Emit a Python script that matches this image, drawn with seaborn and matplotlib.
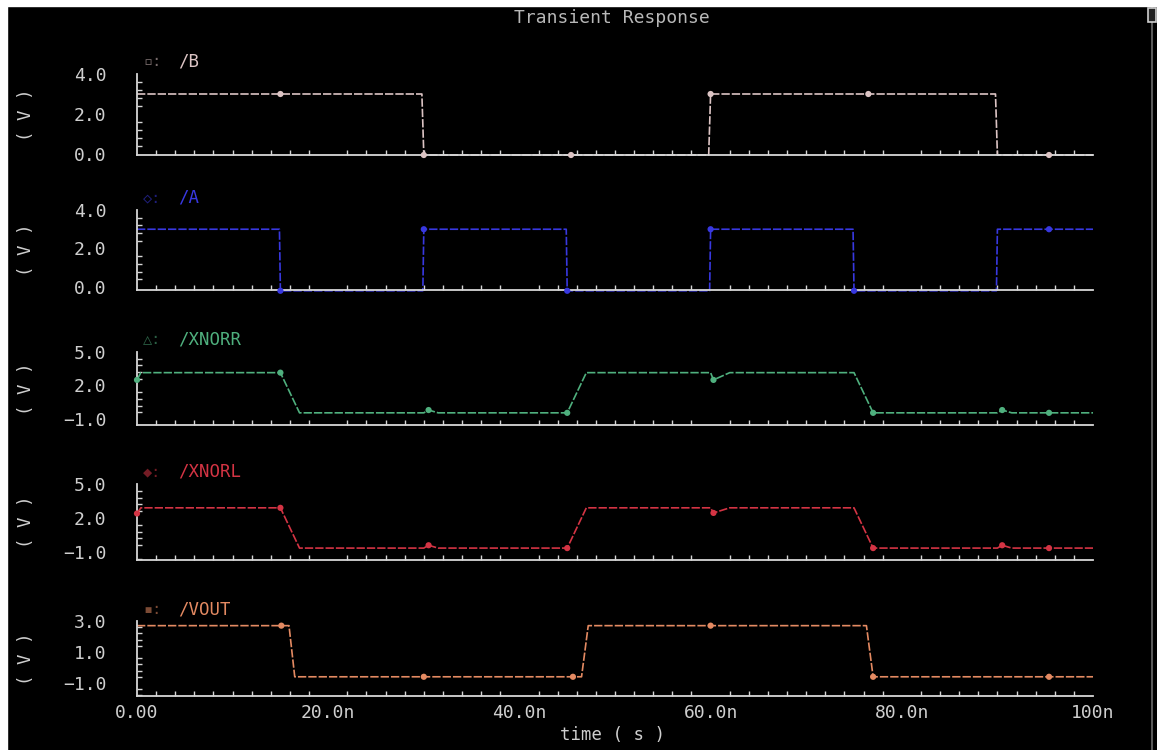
import matplotlib
matplotlib.use("Agg")
import matplotlib.pyplot as plt
import matplotlib.patches as mpatches
from matplotlib.lines import Line2D
from matplotlib.ticker import MultipleLocator, AutoMinorLocator
import pandas as pd
import seaborn as sns

# time in ns, voltage in V
t_b = [0, 15, 29.8, 30, 45.4, 59.8, 60, 76.5, 89.8, 90, 95.4, 100]
v_b = [3.0, 3.0, 3.0, -0.05, -0.05, -0.05, 3.0, 3.0, 3.0, -0.05, -0.05, -0.05]
mk_b = [1, 3, 4, 6, 7, 10]

t_a = [0, 14.9, 15, 29.9, 30, 44.9, 45, 59.9, 60, 74.9, 75, 89.9, 90, 95.4, 100]
v_a = [3.0, 3.0, -0.2, -0.2, 3.0, 3.0, -0.2, -0.2, 3.0, 3.0, -0.2, -0.2, 3.0, 3.0, 3.0]
mk_a = [2, 4, 6, 8, 10, 13]

t_xr = [0, 0.4, 15, 17, 30, 30.5, 31.5, 45, 47, 60, 60.3, 62, 75, 77, 90, 90.5, 91.5, 95.4, 100]
v_xr = [2.5, 3.15, 3.15, -0.45, -0.45, -0.2, -0.45, -0.45, 3.15, 3.15, 2.5, 3.15,
        3.15, -0.45, -0.45, -0.2, -0.45, -0.45, -0.45]
mk_xr = [0, 2, 5, 7, 10, 13, 15, 17]

t_xl = [0, 0.4, 15, 17, 30, 30.5, 31.5, 45, 47, 60, 60.3, 62, 75, 77, 90, 90.5, 91.5, 95.4, 100]
v_xl = [2.4, 2.9, 2.9, -0.65, -0.65, -0.4, -0.65, -0.65, 2.9, 2.9, 2.45, 2.9,
        2.9, -0.65, -0.65, -0.4, -0.65, -0.65, -0.65]
mk_xl = [0, 2, 5, 7, 10, 13, 15, 17]

t_vo = [0, 15.1, 15.9, 16.5, 30, 45.6, 46.5, 47.2, 60, 76.3, 77, 95.4, 100]
v_vo = [2.7, 2.7, 2.7, -0.6, -0.6, -0.6, -0.6, 2.7, 2.7, 2.7, -0.6, -0.6, -0.6]
mk_vo = [1, 4, 5, 8, 10, 11]

names = ["/B", "/A", "/XNORR", "/XNORL", "/VOUT"]
prefixes = ["\u25ab:", "\u25c7:", "\u25b3:", "\u25c6:", "\u25aa:"]
colors = ["#dcc4c4", "#3838e0", "#4fb07e", "#d43444", "#e48a62"]
yticks = [[0, 2, 4], [0, 2, 4], [-1, 2, 5], [-1, 2, 5], [-1, 1, 3]]
ylims = [(-0.05, 4.0), (-0.16, 4.0), (-1.54, 5.0), (-1.7, 5.0), (-1.84, 3.0)]
# (top px, bottom px) of each strip
rows = [(74, 155), (210, 290), (352, 425), (484, 560), (621, 696)]

traces = [(t_b, v_b, mk_b), (t_a, v_a, mk_a), (t_xr, v_xr, mk_xr),
          (t_xl, v_xl, mk_xl), (t_vo, v_vo, mk_vo)]

sns.set_theme(style="dark", rc={"figure.facecolor": "black", "axes.facecolor": "black"})
plt.rcParams["font.family"] = ["DejaVu Sans Mono", "DejaVu Sans"]

W, H = 1157, 750
fig = plt.figure(figsize=(W / 100, H / 100), dpi=100)
fig.patch.set_facecolor("black")

axcol = "#d6d6d6"
x0, x1 = 137, 1093

def fmt(y):
    return f"{y:.1f}".replace("-", "\u2212")

for i, ((t, v, mk), col) in enumerate(zip(traces, colors)):
    top, bot = rows[i]
    ax = fig.add_axes([x0 / W, 1 - bot / H, (x1 - x0) / W, (bot - top) / H])
    ax.set_facecolor("black")
    df = pd.DataFrame({"t": t, "v": v})
    sns.lineplot(data=df, x="t", y="v", ax=ax, color=col, lw=1.2, sort=False,
                 estimator=None, clip_on=False)
    ax.lines[-1].set_dashes((5, 1.2))
    sns.scatterplot(data=df.iloc[mk], x="t", y="v", ax=ax, color=col, s=20,
                    marker="o", edgecolor="none", clip_on=False, zorder=5)
    ax.set_xlim(0, 100)
    ax.set_ylim(*ylims[i])
    ax.set_yticks(yticks[i])
    ax.yaxis.set_minor_locator(AutoMinorLocator(5))
    ax.xaxis.set_major_locator(MultipleLocator(20))
    ax.xaxis.set_minor_locator(MultipleLocator(2))
    ax.set_yticklabels([fmt(y) for y in yticks[i]])
    for s in ["top", "right"]:
        ax.spines[s].set_visible(False)
    for s in ["left", "bottom"]:
        ax.spines[s].set_visible(True)
        ax.spines[s].set_color(axcol)
        ax.spines[s].set_linewidth(1.3)
    ax.tick_params(axis="both", which="both", direction="in", colors=axcol,
                   labelcolor="#cfcfcf", labelsize=13)
    ax.tick_params(axis="both", which="major", length=7, width=1.2)
    ax.tick_params(axis="both", which="minor", length=3.5, width=1.0)
    ax.tick_params(axis="y", which="major", pad=22)
    ax.tick_params(axis="y", which="minor", left=True)
    ax.tick_params(axis="x", which="minor", bottom=True)
    ax.grid(False)
    ax.set_ylabel("")
    ax.set_xlabel("")
    if i < 4:
        ax.tick_params(axis="x", labelbottom=False)
    else:
        ax.set_xticks([0, 20, 40, 60, 80, 100])
        ax.set_xticklabels(["0.00", "20.0n", "40.0n", "60.0n", "80.0n", "100n"])
        ax.tick_params(axis="x", which="major", pad=6)
    # trace label above the strip
    ylab = 1 - (top - 12) / H
    fig.text(143 / W, ylab, prefixes[i], color=col, alpha=0.55, fontsize=11,
             va="center", ha="left")
    fig.text(178 / W, ylab, names[i], color=col, fontsize=12.5, va="center", ha="left")
    fig.text(26 / W, 1 - (top + bot) / 2 / H, "( V )", color="#cfcfcf", fontsize=12.5,
             rotation=90, va="center", ha="center")

fig.text(612 / W, 1 - 18 / H, "Transient Response", color="#b8b8b8", fontsize=13,
         ha="center", va="center")
fig.text(612 / W, 1 - 735 / H, "time ( s )", color="#cfcfcf", fontsize=12.5,
         ha="center", va="center")

# white window border on top and left, grey edge on right
fig.patches.append(mpatches.Rectangle((0, 1 - 6 / H), 1, 6 / H, transform=fig.transFigure,
                                      color="white", zorder=10))
fig.patches.append(mpatches.Rectangle((0, 0), 7 / W, 1, transform=fig.transFigure,
                                      color="white", zorder=10))
fig.lines.append(Line2D([1152 / W, 1152 / W], [0, 1], transform=fig.transFigure,
                        color="#5a5a5a", lw=1.5))
fig.patches.append(mpatches.Rectangle((1148 / W, 1 - 22 / H), 8 / W, 14 / H,
                                      transform=fig.transFigure, facecolor="#222222",
                                      edgecolor="#cfcfcf", lw=1.2, zorder=11))

fig.savefig("out.png", dpi=100, facecolor="black")
